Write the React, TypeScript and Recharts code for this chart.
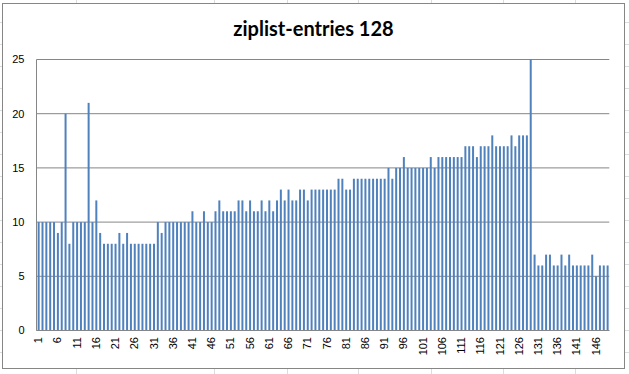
import React from 'react';
import { BarChart, Bar, XAxis, YAxis, CartesianGrid } from 'recharts';

const title = 'ziplist-entries 128';

const categories = [
  1, 2, 3, 4, 5, 6, 7, 8, 9, 10, 11, 12, 13, 14, 15, 16, 17, 18, 19, 20,
  21, 22, 23, 24, 25, 26, 27, 28, 29, 30, 31, 32, 33, 34, 35, 36, 37, 38, 39, 40,
  41, 42, 43, 44, 45, 46, 47, 48, 49, 50, 51, 52, 53, 54, 55, 56, 57, 58, 59, 60,
  61, 62, 63, 64, 65, 66, 67, 68, 69, 70, 71, 72, 73, 74, 75, 76, 77, 78, 79, 80,
  81, 82, 83, 84, 85, 86, 87, 88, 89, 90, 91, 92, 93, 94, 95, 96, 97, 98, 99, 100,
  101, 102, 103, 104, 105, 106, 107, 108, 109, 110, 111, 112, 113, 114, 115, 116, 117, 118, 119, 120,
  121, 122, 123, 124, 125, 126, 127, 128, 129, 130, 131, 132, 133, 134, 135, 136, 137, 138, 139, 140,
  141, 142, 143, 144, 145, 146, 147, 148, 149,
];

const entries = [
  // 1-20
  10, 10, 10, 10, 10, 9, 10, 20, 8, 10, 10, 10, 10, 21, 10, 12, 9, 8, 8, 8,
  // 21-40
  8, 9, 8, 9, 8, 8, 8, 8, 8, 8, 8, 10, 9, 10, 10, 10, 10, 10, 10, 10,
  // 41-60
  11, 10, 10, 11, 10, 10, 11, 12, 11, 11, 11, 11, 12, 12, 11, 12, 11, 11, 12, 11,
  // 61-80
  12, 11, 12, 13, 12, 13, 12, 12, 13, 13, 12, 13, 13, 13, 13, 13, 13, 13, 14, 14,
  // 81-100
  13, 13, 14, 14, 14, 14, 14, 14, 14, 14, 14, 15, 14, 15, 15, 16, 15, 15, 15, 15,
  // 101-120
  15, 15, 16, 15, 16, 16, 16, 16, 16, 16, 16, 17, 17, 17, 16, 17, 17, 17, 18, 17,
  // 121-140
  17, 17, 17, 18, 17, 18, 18, 18, 25, 7, 6, 6, 7, 7, 6, 6, 7, 6, 7, 6,
  // 141-149
  6, 6, 6, 6, 7, 5, 6, 6, 6,
];

const yTicks = [0, 5, 10, 15, 20, 25];

const cellColumns = [76, 214, 287, 358, 431, 503, 575];
const cellRows = [22, 44, 66, 88, 110, 132, 154, 176, 198, 220, 242, 264, 286, 308, 330, 352];

const data = categories.map((c, i) => ({ cat: String(c), value: entries[i] }));

const FONT = '"Liberation Sans", Arial, sans-serif';
const GRID = '#868686';

const XTick = (props: any) => {
  const { x, y, payload } = props;
  const ty = y + 6.5;
  return (
    <text
      x={x}
      y={ty}
      transform={`rotate(-90, ${x}, ${ty})`}
      textAnchor="end"
      dy="0.35em"
      fontSize={11}
      fill="#000"
      fontFamily={FONT}
    >
      {payload.value}
    </text>
  );
};

export default function App() {
  return (
    <div style={{ position: 'fixed', left: 0, top: 0, width: 629, height: 374, background: '#fff', overflow: 'hidden' }}>
      <svg width={629} height={374} style={{ position: 'absolute', left: 0, top: 0 }}>
        {cellColumns.map((cx) => (
          <line key={'c' + cx} x1={cx + 0.5} x2={cx + 0.5} y1={0} y2={374} stroke="#dadcdd" strokeWidth={1} />
        ))}
        {cellRows.map((ry) => (
          <line key={'r' + ry} x1={0} x2={629} y1={ry + 0.5} y2={ry + 0.5} stroke="#dadcdd" strokeWidth={1} />
        ))}
      </svg>
      <div
        style={{
          position: 'absolute',
          left: 2,
          top: 3,
          width: 623,
          height: 366,
          boxSizing: 'border-box',
          border: '1px solid ' + GRID,
          background: '#fff',
        }}
      />
      <svg width={629} height={374} style={{ position: 'absolute', left: 0, top: 0 }}>
        <text x={313.5} y={36} textAnchor="middle" fontSize={20} fontWeight="bold" fontFamily="Lato, sans-serif" fill="#000">
          {title}
        </text>
      </svg>
      <div style={{ position: 'absolute', left: 0, top: 0 }}>
        <BarChart
          width={629}
          height={374}
          data={data}
          margin={{ top: 59.5, right: 19.7, bottom: 3.5, left: 6.5 }}
          barCategoryGap="30%"
        >
          <CartesianGrid horizontal={true} vertical={false} stroke={GRID} strokeDasharray="" />
          <XAxis
            dataKey="cat"
            interval={4}
            height={40}
            tickLine={false}
            tickSize={0}
            tickMargin={0}
            axisLine={{ stroke: GRID }}
            tick={<XTick />}
          />
          <YAxis
            width={30}
            domain={[0, 25]}
            ticks={yTicks}
            tickLine={false}
            tickSize={0}
            tickMargin={12}
            axisLine={{ stroke: GRID }}
            tick={{ fontSize: 11, fill: '#000', fontFamily: FONT }}
          />
          <Bar dataKey="value" fill="#4F81BD" isAnimationActive={false} />
        </BarChart>
      </div>
    </div>
  );
}
